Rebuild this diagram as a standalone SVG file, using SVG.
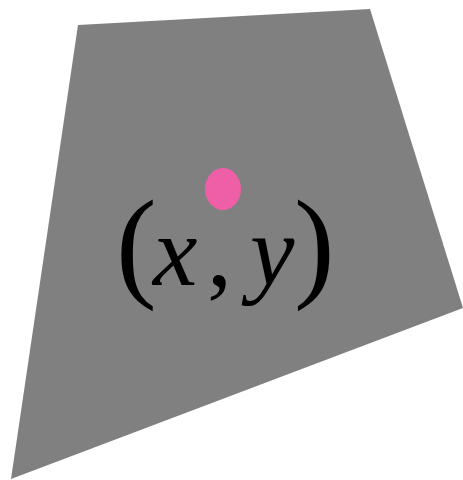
<svg xmlns="http://www.w3.org/2000/svg" width="463" height="480" viewBox="0 0 463 480">
<style>
.shape{fill:#808080;stroke:none}
.pt{fill:#ef5fa7}
.lbl{font-family:"Liberation Serif",serif;font-size:100px;fill:#000}
.it{font-style:italic}
.par{font-size:122px}
</style>
<rect width="463" height="480" fill="#fff"/>
<g id="quad"><polygon class="shape" points="78,25 370,9 463,308 11,479"/></g>
<g id="point"><ellipse class="pt" cx="223" cy="189" rx="18" ry="21"/></g>
<g id="label"><text class="lbl" y="285"><tspan class="par" x="116">(</tspan><tspan class="it" x="153">x</tspan><tspan x="207">,</tspan><tspan class="it" x="250">y</tspan><tspan class="par" x="294">)</tspan></text></g>
</svg>
